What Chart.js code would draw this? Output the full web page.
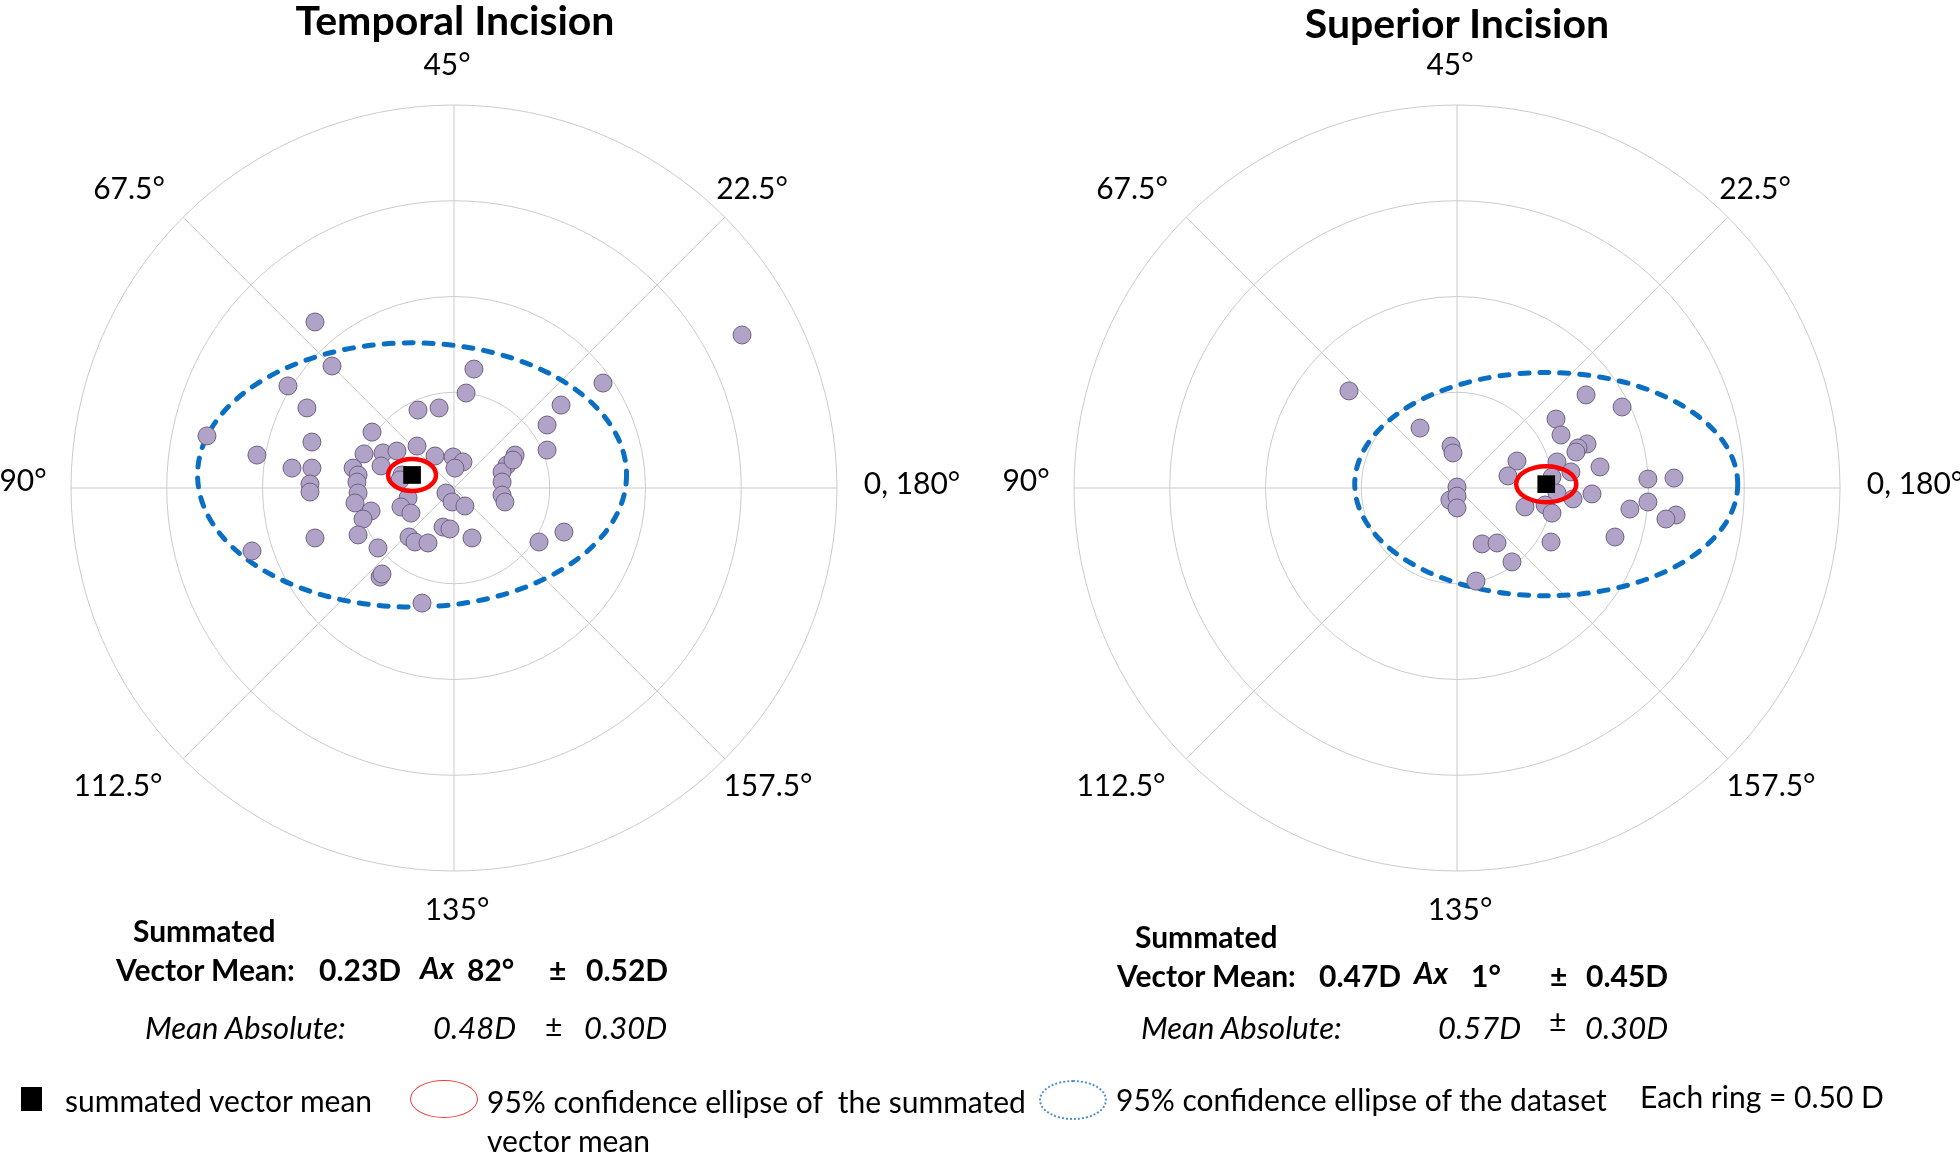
<!DOCTYPE html>
<html>
<head>
<meta charset="utf-8">
<script src="https://cdn.jsdelivr.net/npm/chart.js@4.4.1/dist/chart.umd.min.js"></script>
<style>
  html, body { margin:0; padding:0; background:#fff; }
  body { width:1960px; height:1154px; position:relative; overflow:hidden; font-family: Lato, "Open Sans", sans-serif; color:#000; }
  .pane { position:absolute; top:0; width:980px; height:1154px; }
  .t { position:absolute; white-space:pre; line-height:1; transform:translateY(-50%); }
  .c { transform:translate(-50%,-50%); }
  .title { font-size:41px; font-weight:700; }
  .st { font-size:30px; }
  .b { font-weight:700; }
  .i { font-style:italic; }
  .mi { font-size:31px; font-style:italic; }
  .lg { font-size:30px; }
</style>
</head>
<body>
<div class="pane" style="left:0"><canvas id="cl" width="980" height="1154"></canvas></div>
<div class="pane" style="left:980px"><canvas id="cr" width="980" height="1154"></canvas></div>

<div class="t c title" style="left:455px;top:19px">Temporal Incision</div>
<div class="t c title" style="left:1457px;top:22px">Superior Incision</div>

<!-- left stats -->
<div class="t st b" style="left:133px;top:930px">Summated</div>
<div class="t st b" style="left:116px;top:969px">Vector Mean:</div>
<div class="t st b" style="left:319px;top:969px">0.23D</div>
<div class="t st b i" style="left:420px;top:967px">Ax</div>
<div class="t st b" style="left:467px;top:969px">82°</div>
<div class="t st b" style="left:549px;top:969px">±</div>
<div class="t st b" style="left:586px;top:969px">0.52D</div>
<div class="t mi" style="left:145px;top:1027px">Mean Absolute:</div>
<div class="t mi" style="left:433px;top:1027px">0.48D</div>
<div class="t st" style="left:545px;top:1025px">±</div>
<div class="t mi" style="left:584px;top:1027px">0.30D</div>

<!-- right stats -->
<div class="t st b" style="left:1135px;top:936px">Summated</div>
<div class="t st b" style="left:1117px;top:975px">Vector Mean:</div>
<div class="t st b" style="left:1319px;top:975px">0.47D</div>
<div class="t st b i" style="left:1414px;top:972px">Ax</div>
<div class="t st b" style="left:1471px;top:975px">1°</div>
<div class="t st b" style="left:1550px;top:975px">±</div>
<div class="t st b" style="left:1586px;top:975px">0.45D</div>
<div class="t mi" style="left:1141px;top:1027px">Mean Absolute:</div>
<div class="t mi" style="left:1438px;top:1027px">0.57D</div>
<div class="t st" style="left:1549px;top:1020px">±</div>
<div class="t mi" style="left:1585px;top:1027px">0.30D</div>

<!-- legend -->
<div style="position:absolute;left:21px;top:1087px;width:21px;height:24px;background:#000"></div>
<div class="t lg" style="left:65px;top:1100px">summated vector mean</div>
<div style="position:absolute;left:410px;top:1080px;width:66px;height:36px;border:1.5px solid #f03c3c;border-radius:50%"></div>
<div class="t lg" style="left:487px;top:1101px">95% confidence ellipse of  the summated</div>
<div class="t lg" style="left:487px;top:1140px">vector mean</div>
<div style="position:absolute;left:1039px;top:1080px;width:64px;height:36px;border:2px dotted #4a90d9;border-radius:50%"></div>
<div class="t lg" style="left:1116px;top:1099px">95% confidence ellipse of the dataset</div>
<div class="t lg" style="left:1640px;top:1096px">Each ring = 0.50 D</div>

<script>
// ---------- data (diopters, double-angle plot: x = C·cos2θ, y = C·sin2θ) ----------
const angleLabels = ['0, 180°', '22.5°', '45°', '67.5°', '90°', '112.5°', '135°', '157.5°'];
const ringValues = [0.5, 1.0, 1.5, 2.0];

const temporalX = [-0.726,-0.637,-0.867,-0.768,-1.290,-0.742,-1.029,-0.428,-0.188,-0.078,0.063,0.104,
  -0.470,-0.371,-0.298,-0.193,-0.099,-0.005,0.047,1.504,0.778,0.559,0.486,0.486,0.319,
  -0.846,-0.742,-0.752,-0.752,-0.527,-0.501,-0.507,-0.501,-0.517,-0.433,-0.475,-0.501,-0.726,-1.055,
  -0.397,-0.386,-0.376,-0.167,-0.381,-0.272,-0.282,-0.240,-0.277,-0.225,-0.235,-0.204,-0.136,
  -0.042,-0.010,0.057,-0.057,-0.021,0.094,0.005,0.277,0.251,0.308,0.251,0.251,0.266,0.444,0.574];
const temporalY = [0.867,0.637,0.533,0.418,0.272,0.240,0.172,0.292,0.407,0.418,0.496,0.621,
  0.178,0.183,0.193,0.219,0.167,0.162,0.136,0.799,0.548,0.433,0.329,0.198,0.172,
  0.104,0.104,0.021,-0.021,0.104,0.068,0.031,-0.026,-0.078,-0.120,-0.162,-0.245,-0.261,-0.329,
  -0.313,-0.465,-0.449,-0.601,0.115,0.068,0.042,-0.052,-0.099,-0.131,-0.256,-0.282,-0.287,
  -0.026,-0.073,-0.094,-0.204,-0.214,-0.261,0.104,0.120,0.084,0.146,0.031,-0.037,-0.073,-0.282,-0.230];

const superiorX = [-0.564,-0.193,-0.031,-0.021,0.000,-0.037,0.000,0.000,0.131,0.209,0.287,0.099,
  0.313,0.266,0.355,0.674,0.862,0.517,0.543,0.679,0.632,0.621,0.522,0.747,0.595,0.496,
  0.997,1.133,0.522,0.705,0.606,0.460,0.496,0.997,0.903,1.144,1.091,0.491,0.825];
const superiorY = [0.507,0.313,0.219,0.183,0.005,-0.063,-0.042,-0.104,-0.292,-0.287,-0.386,-0.486,
  0.141,0.063,-0.099,0.486,0.423,0.360,0.277,0.230,0.209,0.188,0.136,0.110,0.084,0.057,
  0.047,0.052,-0.026,-0.031,-0.057,-0.089,-0.131,-0.073,-0.110,-0.141,-0.162,-0.282,-0.256];

// summated vector mean (x, y) and ellipse half-axes (D)
const temporalMean = [-0.219, 0.068];
const temporalMeanEllipse = [0.125, 0.084];
const temporalDataEllipse = [1.120, 0.690];
const superiorMean = [0.466, 0.020];
const superiorMeanEllipse = [0.157, 0.094];
const superiorDataEllipse = [1.000, 0.583];

// ---------- drawing ----------
const labelOffsets = [[458,-4],[298,-299],[-7,-423],[-325,-299],[-431,-7],[-336,298],[3,422],[314,298]];

function ellipsePath(ctx, xs, ys, c, r) {
  const px = xs.getPixelForValue(c[0]), py = ys.getPixelForValue(c[1]);
  const rx = Math.abs(xs.getPixelForValue(c[0] + r[0]) - px);
  const ry = Math.abs(ys.getPixelForValue(c[1] + r[1]) - py);
  ctx.beginPath();
  ctx.ellipse(px, py, rx, ry, 0, 0, Math.PI * 2);
}

const polarPlugin = {
  id: 'polarGrid',
  beforeDatasetsDraw(chart, args, opts) {
    const ctx = chart.ctx, xs = chart.scales.x, ys = chart.scales.y;
    const cx = xs.getPixelForValue(0), cy = ys.getPixelForValue(0);
    const maxR = ringValues[ringValues.length - 1];
    ctx.save();
    ctx.strokeStyle = '#cbcbcb';
    ctx.lineWidth = 1;
    ringValues.forEach(v => {
      const r = xs.getPixelForValue(v) - cx;
      ctx.beginPath(); ctx.arc(cx, cy, r, 0, Math.PI * 2); ctx.stroke();
    });
    angleLabels.forEach((lab, i) => {
      const a = i * Math.PI / 4;
      const ex = xs.getPixelForValue(maxR * Math.cos(a)), ey = ys.getPixelForValue(maxR * Math.sin(a));
      ctx.beginPath(); ctx.moveTo(cx, cy); ctx.lineTo(ex, ey); ctx.stroke();
    });
    ctx.fillStyle = '#000';
    ctx.font = '30px Lato, "Open Sans", sans-serif';
    ctx.textAlign = 'center';
    ctx.textBaseline = 'middle';
    angleLabels.forEach((lab, i) => {
      ctx.fillText(lab, cx + labelOffsets[i][0], cy + labelOffsets[i][1]);
    });
    // 95% confidence ellipse of the dataset (under the points)
    ellipsePath(ctx, xs, ys, opts.mean, opts.dataEllipse);
    ctx.strokeStyle = '#0a6fc2';
    ctx.lineWidth = 5;
    ctx.lineCap = 'round';
    ctx.setLineDash([9, 11]);
    ctx.stroke();
    ctx.restore();
  },
  afterDatasetDraw(chart, args, opts) {
    if (args.index !== 1) return;
    const ctx = chart.ctx, xs = chart.scales.x, ys = chart.scales.y;
    ctx.save();
    ellipsePath(ctx, xs, ys, opts.mean, opts.meanEllipse);
    ctx.strokeStyle = '#ff0000';
    ctx.lineWidth = 4.5;
    ctx.stroke();
    ctx.restore();
  }
};

function makeChart(id, xsArr, ysArr, mean, meanEll, dataEll, padLeft) {
  const pts = xsArr.map((x, i) => ({ x: x, y: ysArr[i] }));
  const side = 766;
  return new Chart(document.getElementById(id), {
    type: 'scatter',
    data: {
      datasets: [
        { label: 'summated vector mean', data: [{ x: mean[0], y: mean[1] }],
          pointStyle: 'rect', pointRadius: 12.5, backgroundColor: '#000', borderColor: '#000', borderWidth: 0 },
        { label: 'eyes', data: pts, pointRadius: 9,
          backgroundColor: '#b1a3c8', borderColor: '#6c6180', borderWidth: 1 }
      ]
    },
    options: {
      responsive: false, animation: false, devicePixelRatio: 1, events: [],
      layout: { padding: { left: padLeft, right: 980 - padLeft - side, top: 105, bottom: 1154 - 105 - side } },
      scales: {
        x: { type: 'linear', min: -2, max: 2, display: false },
        y: { type: 'linear', min: -2, max: 2, display: false }
      },
      plugins: {
        legend: { display: false }, tooltip: { enabled: false },
        polarGrid: { mean: mean, meanEllipse: meanEll, dataEllipse: dataEll }
      }
    },
    plugins: [polarPlugin]
  });
}

makeChart('cl', temporalX, temporalY, temporalMean, temporalMeanEllipse, temporalDataEllipse, 71);
makeChart('cr', superiorX, superiorY, superiorMean, superiorMeanEllipse, superiorDataEllipse, 94);
</script>
</body>
</html>
